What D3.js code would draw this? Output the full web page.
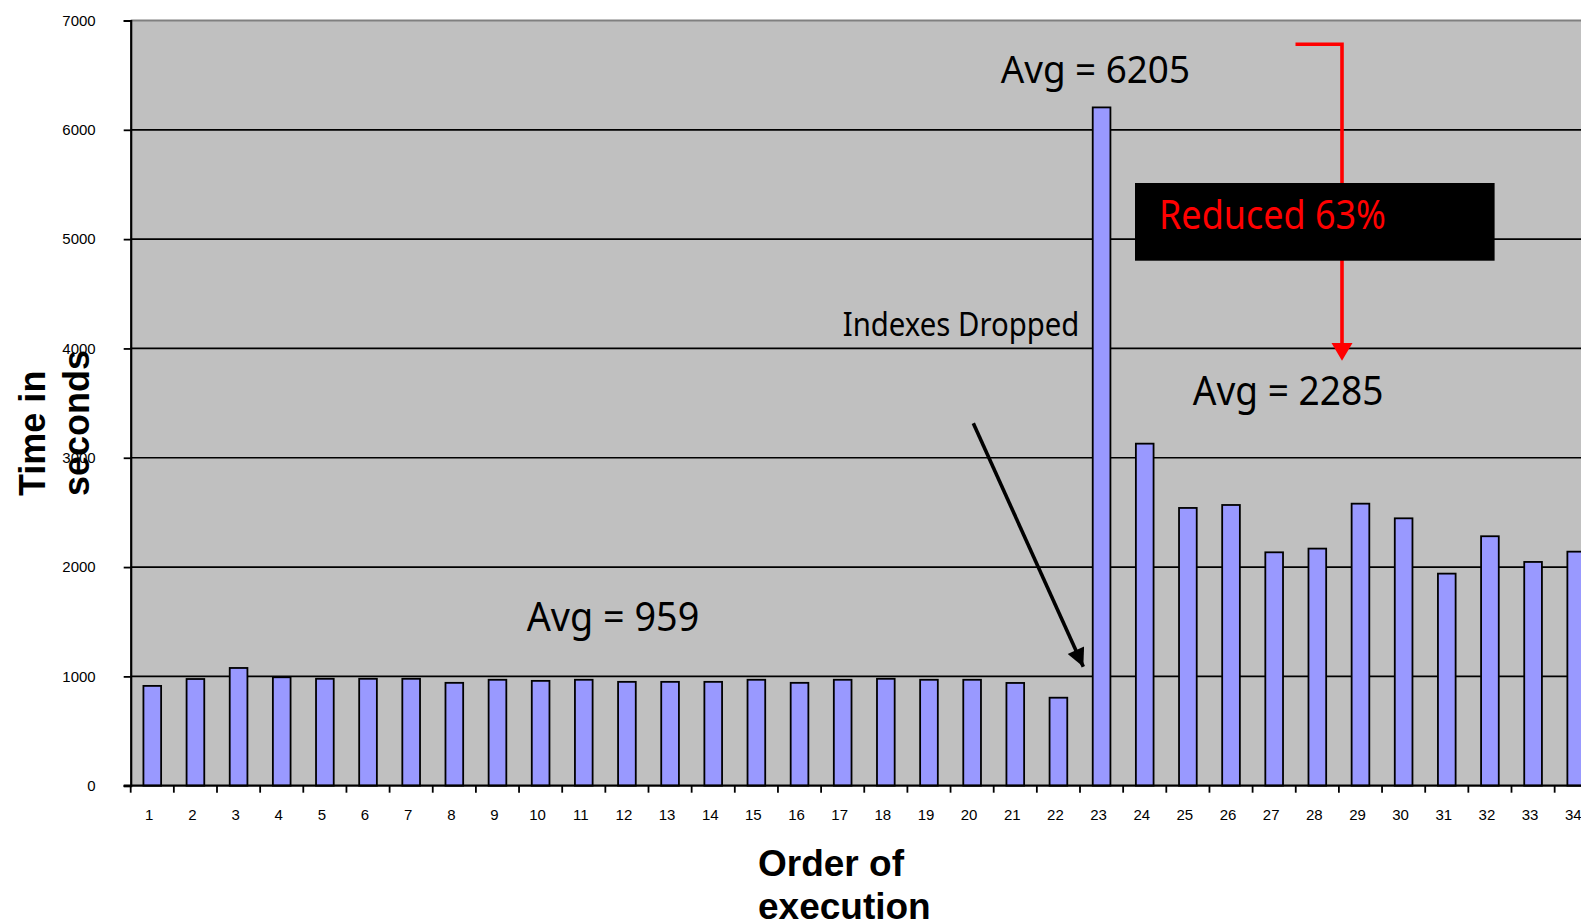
<!DOCTYPE html>
<html>
<head>
<meta charset="utf-8">
<script src="https://cdn.jsdelivr.net/npm/d3@7"></script>
<style>
  html, body { margin: 0; padding: 0; background: #ffffff; overflow: hidden; }
  svg { display: block; }
</style>
</head>
<body>
<svg id="chart" width="1581" height="924"></svg>
<script>
// Run order and elapsed time (seconds) of each execution
const runs = d3.range(1, 35);
const seconds = [913, 976, 1077, 992, 978, 978, 978, 941, 969, 959, 969, 950, 950, 950, 969, 941,
                 969, 978, 969, 969, 940, 805, 6205, 3129, 2541, 2568, 2135, 2169, 2580, 2446,
                 1940, 2282, 2047, 2141];
const yTicks = [0, 1000, 2000, 3000, 4000, 5000, 6000, 7000];

// Averages quoted on the chart
const avgBefore = 959;
const avgPeak = 6205;
const avgAfter = 2285;
const reduction = 63;

const svg = d3.select("#chart");

const plotLeft = 130.7, plotTop = 20.5, plotBottom = 785.7, step = 43.15;
const plotRight = plotLeft + runs.length * step;

const x = d3.scaleBand()
  .domain(runs)
  .range([plotLeft, plotRight])
  .paddingInner(0.59)
  .paddingOuter(0.295);

const y = d3.scaleLinear().domain([0, 7000]).range([plotBottom, plotTop]);

// plot background
svg.append("rect")
  .attr("x", plotLeft).attr("y", plotTop)
  .attr("width", plotRight - plotLeft).attr("height", plotBottom - plotTop)
  .attr("fill", "#c0c0c0");

// horizontal gridlines
svg.append("g").selectAll("line")
  .data(yTicks.filter(d => d > 0 && d < 7000))
  .join("line")
  .attr("x1", plotLeft).attr("x2", plotRight)
  .attr("y1", d => y(d)).attr("y2", d => y(d))
  .attr("stroke", "#000").attr("stroke-width", 1.7);

// top border of the plot area
svg.append("line")
  .attr("x1", plotLeft).attr("x2", plotRight)
  .attr("y1", y(7000)).attr("y2", y(7000))
  .attr("stroke", "#808080").attr("stroke-width", 2);

// bars
svg.append("g").selectAll("rect")
  .data(runs)
  .join("rect")
  .attr("x", d => x(d))
  .attr("y", (d, i) => y(seconds[i]))
  .attr("width", x.bandwidth())
  .attr("height", (d, i) => y(0) - y(seconds[i]))
  .attr("fill", "#9999ff")
  .attr("stroke", "#000")
  .attr("stroke-width", 1.8);

// y axis
const yAxis = svg.append("g")
  .attr("transform", `translate(${plotLeft},0)`)
  .call(d3.axisLeft(y).tickValues(yTicks).tickSize(7).tickPadding(28).tickFormat(d3.format("d")));
yAxis.select(".domain").attr("stroke", "#000").attr("stroke-width", 2.2);
yAxis.selectAll(".tick line").attr("stroke", "#000").attr("stroke-width", 1.8);
yAxis.selectAll(".tick text")
  .attr("font-family", "Liberation Sans, Arial, sans-serif")
  .attr("font-size", 15).attr("fill", "#000");

// x axis baseline
svg.append("line")
  .attr("x1", plotLeft - 7).attr("x2", plotRight)
  .attr("y1", plotBottom).attr("y2", plotBottom)
  .attr("stroke", "#000").attr("stroke-width", 2.2);

// x ticks sit on category boundaries
svg.append("g").selectAll("line")
  .data(d3.range(runs.length + 1))
  .join("line")
  .attr("x1", i => plotLeft + i * x.step()).attr("x2", i => plotLeft + i * x.step())
  .attr("y1", plotBottom).attr("y2", plotBottom + 7)
  .attr("stroke", "#000").attr("stroke-width", 1.8);

// x tick labels
svg.append("g").selectAll("text")
  .data(runs)
  .join("text")
  .attr("x", d => x(d) + x.bandwidth() / 2 - 3)
  .attr("y", 820)
  .attr("text-anchor", "middle")
  .attr("font-family", "Liberation Sans, Arial, sans-serif")
  .attr("font-size", 15)
  .text(d => d);

// axis titles
const title = { "font-family": "Liberation Sans, Arial, sans-serif", "font-weight": "bold", "font-size": 37 };
const xt = svg.append("text").attr("x", 758).attr("y", 876);
Object.entries(title).forEach(([k, v]) => xt.attr(k, v));
xt.append("tspan").attr("x", 758).text("Order of");
xt.append("tspan").attr("x", 758).attr("dy", 43).text("execution");

const yt = svg.append("text").attr("transform", "translate(45,496) rotate(-90)");
Object.entries(title).forEach(([k, v]) => yt.attr(k, v));
yt.attr("font-size", 36);
yt.append("tspan").attr("x", 0).attr("y", 0).text("Time in");
yt.append("tspan").attr("x", 0).attr("y", 44).text("seconds");

// annotation text
const noteFont = "Noto Sans, Open Sans, sans-serif";
function note(str, xPos, yPos, size, len, color) {
  svg.append("text")
    .attr("x", xPos).attr("y", yPos)
    .attr("font-family", noteFont)
    .attr("font-size", size)
    .attr("fill", color || "#000")
    .attr("textLength", len)
    .attr("lengthAdjust", "spacingAndGlyphs")
    .text(str);
}
note(`Avg = ${avgBefore}`, 526.7, 631, 40, 172.6);
note(`Avg = ${avgPeak}`, 1000.7, 82.7, 39, 189.3);
note(`Avg = ${avgAfter}`, 1192.7, 405, 40, 190.7);
note("Indexes Dropped", 842.7, 335.7, 32.6, 236.7);

// black arrow pointing to the first run after the indexes are gone
const defs = svg.append("defs");
defs.append("marker")
  .attr("id", "headBlack")
  .attr("viewBox", "0 0 10 10")
  .attr("refX", 10).attr("refY", 5)
  .attr("markerUnits", "userSpaceOnUse")
  .attr("markerWidth", 22).attr("markerHeight", 18)
  .attr("orient", "auto")
  .append("path").attr("d", "M0,0 L10,5 L0,10 Z").attr("fill", "#000");

svg.append("line")
  .attr("x1", 973.3).attr("y1", 423.3)
  .attr("x2", 1083.3).attr("y2", 666.7)
  .attr("stroke", "#000").attr("stroke-width", 3.6)
  .attr("marker-end", "url(#headBlack)");

// red bracket from the peak average down to the new average
const redX = 1342;
svg.append("path")
  .attr("d", `M1295.5,44.3 H${redX} V345`)
  .attr("fill", "none")
  .attr("stroke", "#ff0000").attr("stroke-width", 3.6);
svg.append("path")
  .attr("d", `M${redX - 10.5},343 L${redX + 10.5},343 L${redX},360.7 Z`)
  .attr("fill", "#ff0000");

// reduction callout box
svg.append("rect")
  .attr("x", 1135).attr("y", 183)
  .attr("width", 359.6).attr("height", 77.7)
  .attr("fill", "#000");
note(`Reduced ${reduction}%`, 1159, 229.3, 39.6, 227, "#ff0000");
</script>
</body>
</html>
